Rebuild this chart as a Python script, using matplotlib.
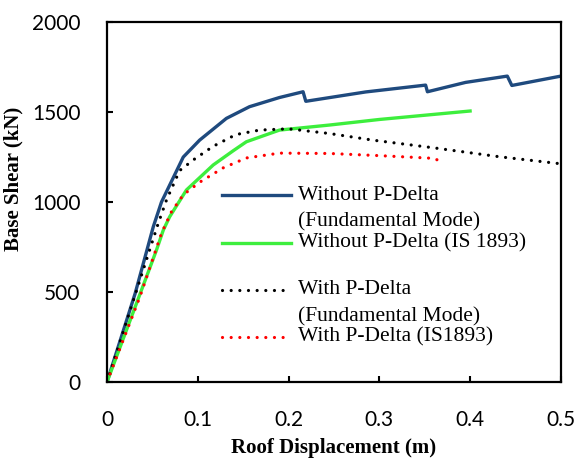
import numpy as np
import matplotlib
matplotlib.use("Agg")
import matplotlib.pyplot as plt

# pushover curves (x in m, y in kN)
wo_fund_x = [0, 0.031, 0.051, 0.060, 0.084, 0.102, 0.1315, 0.157, 0.190, 0.216,
             0.219, 0.285, 0.351, 0.353, 0.395, 0.441, 0.446, 0.50]
wo_fund_y = [0, 492, 863, 1000, 1250, 1344, 1465, 1530, 1581, 1613,
             1560, 1612, 1650, 1613, 1665, 1700, 1648, 1700]

wo_is_x = [0, 0.0325, 0.0545, 0.062, 0.069, 0.0875, 0.117, 0.139, 0.1535, 0.190, 0.245, 0.30, 0.40]
wo_is_y = [0, 437, 733, 844, 918, 1067, 1206, 1285, 1335, 1400, 1428, 1459, 1506]

w_fund_x = [0, 0.0363, 0.0564, 0.0655, 0.080, 0.0967, 0.117, 0.142, 0.168, 0.200,
            0.245, 0.293, 0.359, 0.432, 0.496]
w_fund_y = [0, 567, 881, 1011, 1175, 1240, 1310, 1375, 1400, 1407,
            1381, 1344, 1302, 1252, 1215]

w_is_x = [0, 0.0363, 0.060, 0.071, 0.084, 0.102, 0.128, 0.1535, 0.190, 0.245, 0.300, 0.360, 0.368]
w_is_y = [0, 474, 826, 946, 1040, 1110, 1190, 1245, 1272, 1270, 1258, 1243, 1225]

x_ticks = [0, 0.1, 0.2, 0.3, 0.4, 0.5]
x_tick_labels = ["0", "0.1", "0.2", "0.3", "0.4", "0.5"]
y_ticks = [0, 500, 1000, 1500, 2000]

blue = "#1f4a7e"
green = "#3dee3d"
dots = (0, (0.01, 2.7))

fig = plt.figure(figsize=(5.8, 4.61), dpi=100)
ax = fig.add_axes([0.1845, 0.1714, 0.7825, 0.7806])

ax.plot(wo_fund_x, wo_fund_y, color=blue, lw=2.4, solid_joinstyle="round")
ax.plot(wo_is_x, wo_is_y, color=green, lw=2.4)
ax.plot(w_fund_x, w_fund_y, color="black", lw=2.3, linestyle=dots, dash_capstyle="round")
ax.plot(w_is_x, w_is_y, color="red", lw=2.3, linestyle=dots, dash_capstyle="round")

ax.set_xlim(0, 0.5)
ax.set_ylim(0, 2000)
ax.set_xticks(x_ticks)
ax.set_xticklabels(x_tick_labels)
ax.set_yticks(y_ticks)
for s in ax.spines.values():
    s.set_linewidth(1.6)
ax.tick_params(direction="in", length=4, width=1.5, labelsize=15)
ax.tick_params(axis="x", pad=20)
ax.tick_params(axis="y", pad=19)
for lab in ax.get_xticklabels() + ax.get_yticklabels():
    lab.set_family("Lato")

ax.set_xlabel("Roof Displacement (m)", family="Liberation Serif", weight="bold",
              fontsize=15, labelpad=6)
ax.set_ylabel("Base Shear (kN)", family="Liberation Serif", weight="bold",
              fontsize=15)
ax.yaxis.set_label_coords(-0.185, 0.564)

# hand made legend: the handle sits on the first line of each label
entries = [
    (["Without P-Delta", "(Fundamental Mode)"], 0.519, dict(color=blue, lw=2.4)),
    (["Without P-Delta (IS 1893)"], 0.386, dict(color=green, lw=2.4)),
    (["With P-Delta", "(Fundamental Mode)"], 0.256,
     dict(color="black", lw=2.3, linestyle=dots, dash_capstyle="round")),
    (["With P-Delta (IS1893)"], 0.125,
     dict(color="red", lw=2.3, linestyle=dots, dash_capstyle="round")),
]
for lines, y0, style in entries:
    ax.plot([0.253, 0.405], [y0, y0], transform=ax.transAxes, **style)
    for i, txt in enumerate(lines):
        ax.text(0.421, y0 - i * 0.075, txt, transform=ax.transAxes, va="center",
                ha="left", family="Liberation Serif", fontsize=15.5)

fig.savefig("out.png", dpi=100)
